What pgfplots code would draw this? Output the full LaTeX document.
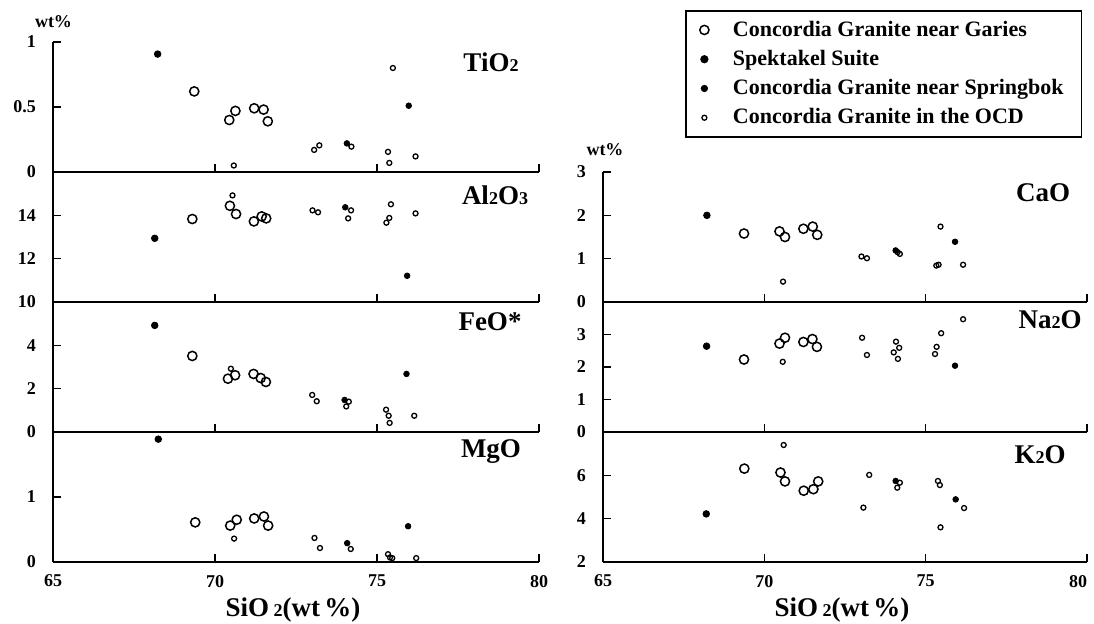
\documentclass[border=0pt]{standalone}
\usepackage{pgfplots}
\pgfplotsset{compat=1.18}
\usepackage{fontspec}
\setmainfont{Liberation Serif}
\newcommand{\sub}[1]{{\fontsize{9}{9}\selectfont #1}}

\pgfplotsset{
  panel/.style={
    scale only axis, width=243pt, height=65pt,
    xmin=65, xmax=80,
    axis x line*=bottom, axis y line*=left,
    axis line style={line width=1pt},
    xtick={70,75,80}, xticklabels={},
    tick align=inside, major tick length=4pt,
    tick style={black, line width=0.8pt},
    tick label style={font=\bfseries\fontsize{9}{9}\selectfont},
    /pgf/number format/assume math mode=true,
    yticklabel style={xshift=-5pt},
    clip=false,
  },
  bottompanel/.style={xtick={65,70,75,80}, xticklabels={65,70,75,80},
    xticklabel style={yshift=-3pt}},
  garies/.style={only marks, mark=o, mark size=2.3pt, line width=0.75pt, black},
  spek/.style={only marks, mark=*, mark size=1.65pt, black},
  spring/.style={only marks, mark=*, mark size=1.4pt, black},
  ocd/.style={only marks, mark=o, mark size=1.25pt, line width=0.65pt, black},
}

\begin{document}
\begin{tikzpicture}
\path[use as bounding box] (0,0) rectangle (547pt,311.5pt);

% TiO2
\begin{axis}[panel, at={(26.5pt,225.5pt)}, anchor=south west,
  ymin=0, ymax=1, ytick={0,0.5,1},
  legend style={at={(axis description cs:1.3004,1.246)}, anchor=north west,
    draw=black, line width=0.8pt, font=\bfseries\fontsize{11}{11}\selectfont,
    cells={anchor=west}, row sep=1.5pt, inner xsep=7pt, inner ysep=3pt,
    /tikz/every odd column/.append style={column sep=10pt}},
  legend image code/.code={\draw[#1] plot coordinates {(0pt,0pt)};},
  legend cell align=left]
\addplot[garies] coordinates {(69.36,0.62) (70.44,0.40) (70.63,0.47) (71.21,0.49) (71.50,0.48) (71.63,0.39)};
\addplot[spek] coordinates {(68.23,0.907)};
\addplot[spring] coordinates {(74.07,0.22) (75.98,0.51)};
\addplot[ocd] coordinates {(70.58,0.05) (73.06,0.17) (73.22,0.205) (74.21,0.195) (75.49,0.80) (75.34,0.155) (75.38,0.07) (76.19,0.12)};
\legend{Concordia Granite near Garies, Spektakel Suite, Concordia Granite near Springbok, Concordia Granite in the OCD}
\end{axis}

% Al2O3
\begin{axis}[panel, at={(26.5pt,160.5pt)}, anchor=south west,
  ymin=10, ymax=16, ytick={10,12,14}]
\addplot[garies] coordinates {(69.30,13.83) (70.46,14.44) (70.65,14.06) (71.20,13.72) (71.44,13.95) (71.58,13.86)};
\addplot[spek] coordinates {(68.14,12.94)};
\addplot[spring] coordinates {(74.02,14.37) (75.93,11.21)};
\addplot[ocd] coordinates {(70.54,14.92) (73.01,14.23) (73.18,14.14) (74.20,14.23) (74.11,13.86) (75.43,14.51) (75.38,13.88) (75.29,13.66) (76.19,14.09)};
\end{axis}

% FeO*
\begin{axis}[panel, at={(26.5pt,95.5pt)}, anchor=south west,
  ymin=0, ymax=6, ytick={0,2,4}]
\addplot[garies] coordinates {(69.30,3.51) (70.40,2.46) (70.62,2.62) (71.19,2.68) (71.41,2.49) (71.57,2.31)};
\addplot[spek] coordinates {(68.14,4.92)};
\addplot[spring] coordinates {(74.00,1.48) (75.91,2.68)};
\addplot[ocd] coordinates {(70.49,2.92) (73.00,1.71) (73.14,1.42) (74.13,1.40) (74.05,1.18) (75.28,1.03) (75.36,0.75) (75.39,0.42) (76.15,0.75)};
\end{axis}

% MgO
\begin{axis}[panel, bottompanel, at={(26.5pt,30.5pt)}, anchor=south west,
  ymin=0, ymax=2, ytick={0,1}]
\addplot[garies] coordinates {(69.39,0.61) (70.47,0.56) (70.67,0.65) (71.21,0.67) (71.51,0.70) (71.64,0.56)};
\addplot[spek] coordinates {(68.25,1.89)};
\addplot[spring] coordinates {(74.08,0.29) (75.96,0.55)};
\addplot[ocd] coordinates {(70.59,0.36) (73.07,0.37) (73.24,0.215) (74.19,0.20) (75.34,0.12) (75.40,0.07) (75.47,0.06) (76.21,0.06)};
\end{axis}

% CaO
\begin{axis}[panel, width=242pt, at={(301.5pt,160.5pt)}, anchor=south west,
  ymin=0, ymax=3, ytick={0,1,2,3}]
\addplot[garies] coordinates {(69.37,1.58) (70.47,1.63) (70.64,1.50) (71.21,1.69) (71.50,1.74) (71.64,1.55)};
\addplot[spek] coordinates {(68.22,2.0)};
\addplot[spring] coordinates {(74.07,1.19) (75.91,1.39)};
\addplot[ocd] coordinates {(70.58,0.47) (73.01,1.05) (73.18,1.01) (74.20,1.11) (74.13,1.15) (75.46,1.74) (75.33,0.84) (75.40,0.86) (76.16,0.86)};
\end{axis}

% Na2O
\begin{axis}[panel, width=242pt, at={(301.5pt,95.5pt)}, anchor=south west,
  ymin=0, ymax=4, ytick={0,1,2,3}]
\addplot[garies] coordinates {(69.37,2.23) (70.47,2.72) (70.64,2.90) (71.21,2.77) (71.49,2.86) (71.63,2.62)};
\addplot[spek] coordinates {(68.21,2.64)};
\addplot[spring] coordinates {(75.91,2.04)};
\addplot[ocd] coordinates {(70.57,2.16) (73.03,2.90) (73.18,2.37) (74.08,2.78) (74.18,2.59) (74.01,2.45) (74.14,2.25) (75.48,3.04) (75.34,2.62) (75.29,2.40) (76.16,3.47)};
\end{axis}

% K2O
\begin{axis}[panel, bottompanel, width=242pt, at={(301.5pt,30.5pt)}, anchor=south west,
  ymin=2, ymax=8, ytick={2,4,6}, xticklabels={65,70,75,\llap{80}}]
\addplot[garies] coordinates {(69.38,6.31) (70.50,6.13) (70.64,5.72) (71.22,5.29) (71.52,5.36) (71.67,5.72)};
\addplot[spek] coordinates {(68.20,4.22)};
\addplot[spring] coordinates {(74.07,5.74) (75.93,4.89)};
\addplot[ocd] coordinates {(70.60,7.40) (73.25,6.02) (73.07,4.51) (74.20,5.66) (74.12,5.43) (75.38,5.74) (75.44,5.55) (75.46,3.60) (76.19,4.49)};
\end{axis}

% labels
\begin{scope}[every node/.style={font=\bfseries\fontsize{13.5}{13.5}\selectfont, inner sep=0pt}]
\node at (245.5pt,280.5pt) {TiO\sub{2}};
\node at (247.5pt,214pt) {Al\sub{2}O\sub{3}};
\node at (245pt,150.5pt) {FeO*};
\node at (245.5pt,85.5pt) {MgO};
\node at (521.5pt,215pt) {CaO};
\node at (525pt,151.5pt) {Na\sub{2}O};
\node at (520pt,84pt) {K\sub{2}O};
\node at (146.5pt,6.5pt) {SiO\,\sub{2}(wt\,\%)};
\node at (421pt,6.5pt) {SiO\,\sub{2}(wt\,\%)};
\end{scope}
\node[font=\bfseries\fontsize{9}{9}\selectfont, inner sep=0pt] at (26.75pt,300.5pt) {wt\%};
\node[font=\bfseries\fontsize{9}{9}\selectfont, inner sep=0pt] at (302.5pt,236.5pt) {wt\%};
\end{tikzpicture}
\end{document}
